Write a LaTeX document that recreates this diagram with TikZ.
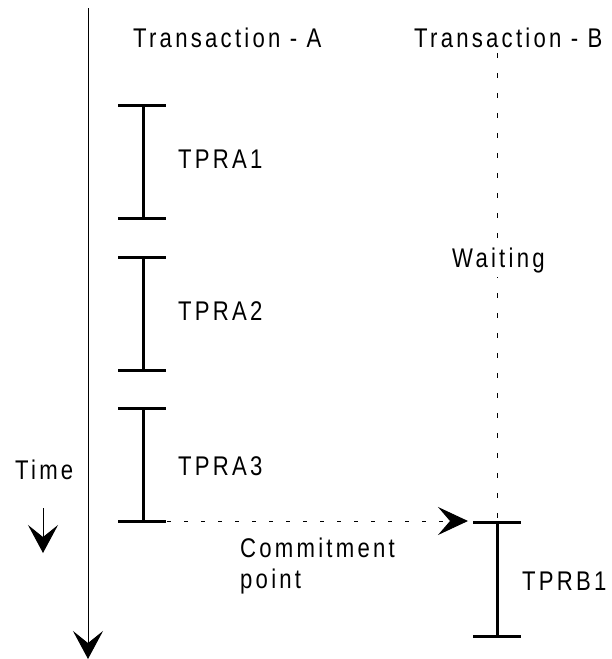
\documentclass[tikz,border=0pt]{standalone}
\usepackage{fontspec}
\newfontfamily\lbl{Liberation Sans}[FakeStretch=0.82,LetterSpace=12]
\usetikzlibrary{arrows.meta}
\begin{document}
\begin{tikzpicture}[x=1pt,y=-1pt,
  lab/.style={anchor=base west,inner sep=0pt,font=\lbl\fontsize{27}{31}\selectfont},
  bar/.style={line width=3pt},
  axis/.style={line width=1pt},
  bigtip/.style={-{Stealth[length=28pt,width=30pt,inset=12pt]}},
  dashv/.style={line width=1pt,dash pattern=on 5pt off 15pt},
  dashh/.style={line width=1pt,dash pattern=on 4pt off 13pt}]
\useasboundingbox (0,0) rectangle (611,659);
% time axis
\coordinate (axtop) at (88,8);
\coordinate (axbot) at (88,659);
\draw[axis,bigtip] (axtop) -- (axbot);
% time label and arrow
\node[lab] (time) at (15,479) {Time};
\coordinate (tarrs) at (43,508);
\coordinate (tarre) at (43,553);
\draw[axis,bigtip] (tarrs) -- (tarre);
% headers
\node[lab] (ta) at (133,47) {Transaction - A};
\node[lab] (tb) at (414,47) {Transaction - B};
% TPRA bars
\foreach \i/\t/\b in {1/105/218, 2/257/370, 3/408/521}{
  \coordinate (a\i t) at (143,\t);
  \coordinate (a\i b) at (143,\b);
  \draw[bar] (118,\t) -- (166,\t);
  \draw[bar] (118,\b) -- (166,\b);
  \draw[bar] (a\i t) -- (a\i b);
}
\node[lab] (tpra1) at (178,168) {TPRA1};
\node[lab] (tpra2) at (178,320) {TPRA2};
\node[lab] (tpra3) at (178,475) {TPRA3};
% Transaction B waiting line
\coordinate (btop) at (497,53);
\coordinate (bbot) at (497,521);
\draw[dashv] (btop) -- (bbot);
\node[lab,fill=white,inner ysep=4pt] (wait) at (452,267) {Waiting};
% commitment arrow
\coordinate (cs) at (167,521);
\coordinate (ce) at (468,521);
\draw[dashh,-{Stealth[length=30pt,width=28pt,inset=12pt]}] (cs) -- (ce);
\node[lab] (commit1) at (240,557) {Commitment};
\node[lab] (commit2) at (240,588) {point};
% TPRB1
\coordinate (b1t) at (497,522);
\coordinate (b1b) at (497,636);
\draw[bar] (473,522) -- (521,522);
\draw[bar] (473,636) -- (521,636);
\draw[bar] (b1t) -- (b1b);
\node[lab] (tprb1) at (522,590) {TPRB1};
\end{tikzpicture}
\end{document}
